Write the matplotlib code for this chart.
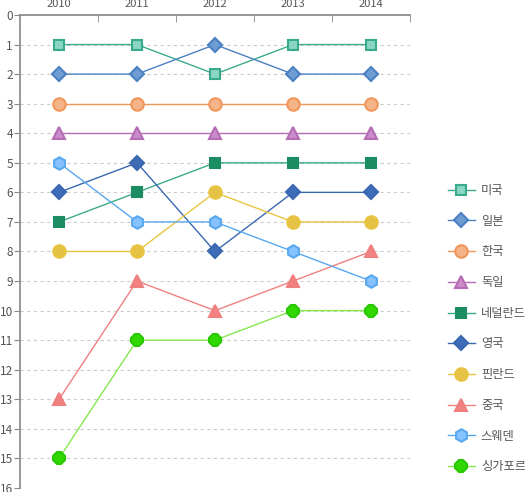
import matplotlib.pyplot as plt

plt.rcParams['font.family'] = ['Noto Sans CJK KR', 'DejaVu Sans']

# Data
years = ["2010", "2011", "2012", "2013", "2014"]
countries = ["미국", "일본", "한국", "독일", "네덜란드", "영국", "핀란드", "중국", "스웨덴", "싱가포르"]
rank_us = [1, 1, 2, 1, 1]
rank_jp = [2, 2, 1, 2, 2]
rank_kr = [3, 3, 3, 3, 3]
rank_de = [4, 4, 4, 4, 4]
rank_nl = [7, 6, 5, 5, 5]
rank_uk = [6, 5, 8, 6, 6]
rank_fi = [8, 8, 6, 7, 7]
rank_cn = [13, 9, 10, 9, 8]
rank_se = [5, 7, 7, 8, 9]
rank_sg = [15, 11, 11, 10, 10]
ranks = [rank_us, rank_jp, rank_kr, rank_de, rank_nl, rank_uk, rank_fi, rank_cn, rank_se, rank_sg]

# line color, marker face, marker edge, marker, size
styles = [
    ("#3aaa8c", "#8ad6c2", "#3aaa8c", "s", 7),
    ("#4a80c2", "#6e9dd4", "#4a80c2", "D", 7),
    ("#f0965a", "#f5b488", "#f0965a", "o", 9),
    ("#b46cb4", "#cc8ccc", "#b46cb4", "^", 8.5),
    ("#3aaa8c", "#1c8c62", "#1c8c62", "s", 7),
    ("#3a68b0", "#3e6cb6", "#3a68b0", "D", 7),
    ("#e8c440", "#e6c244", "#e8c440", "o", 9),
    ("#f08080", "#f28282", "#f08080", "^", 8.5),
    ("#58a8f0", "#86c2ff", "#58a8f0", "h", 9),
    ("#88e850", "#30d800", "#28c800", "8", 9),
]

fig = plt.figure(figsize=(5.25, 4.92), dpi=100)
ax = fig.add_axes([20 / 525, 1 - 488 / 492, 390 / 525, 473 / 492])

x = list(range(len(years)))
for name, r, (lc, fc, ec, m, ms) in zip(countries, ranks, styles):
    ax.plot(x, r, color=lc, linewidth=1, marker=m, markersize=ms,
            markerfacecolor=fc, markeredgecolor=ec, markeredgewidth=1.5,
            label=name)

ax.set_xlim(-0.5, 4.5)
ax.set_ylim(16, 0)
ax.set_yticks(range(0, 17))
ax.yaxis.grid(True, linestyle=(0, (3, 3)), color="#cccccc", linewidth=0.8)
ax.set_axisbelow(True)

ax.xaxis.tick_top()
ax.set_xticks(x)
ax.set_xticklabels(years)
ax.set_xticks([0.5, 1.5, 2.5, 3.5, 4.5], minor=True)
ax.tick_params(axis="x", which="major", length=0, pad=4, labelsize=8, labelcolor="#555555")
ax.tick_params(axis="x", which="minor", direction="in", length=5, color="#888888")
ax.tick_params(axis="y", length=4, color="#888888", labelsize=8.5, labelcolor="#555555", pad=1)

for side in ["right", "bottom"]:
    ax.spines[side].set_visible(False)
for side in ["left", "top"]:
    ax.spines[side].set_color("#888888")
    ax.spines[side].set_linewidth(1.2)

leg = fig.legend(loc="upper left", bbox_to_anchor=(443 / 525, 1 - 179 / 492),
                 frameon=False, fontsize=8.8, labelspacing=1.45, handlelength=2.2,
                 handletextpad=0.5, borderaxespad=0)
for t in leg.get_texts():
    t.set_color("#555555")

fig.savefig("out.png", dpi=100)
